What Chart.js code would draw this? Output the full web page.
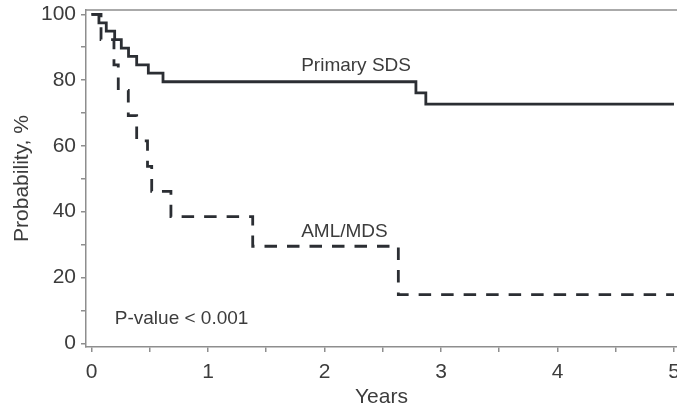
<!DOCTYPE html>
<html>
<head>
<meta charset="utf-8">
<script src="https://cdn.jsdelivr.net/npm/chart.js@4.4.1/dist/chart.umd.min.js"></script>
<style>
  html, body { margin: 0; padding: 0; background: #fff; }
  #wrap { width: 677px; height: 409px; }
</style>
</head>
<body>
<div id="wrap"><canvas id="grafico" width="677" height="409"></canvas></div>
<script>
// curvas de sobrevida (anos, probabilidade %)
const sdsAnos = [0, 0.064, 0.127, 0.199, 0.256, 0.318, 0.388, 0.488, 0.614, 2.785, 2.87, 5];
const sdsProb = [100, 97.4, 94.9, 92.3, 89.7, 87.2, 84.6, 82.1, 79.5, 76.1, 72.7, 72.7];

const amlAnos = [0, 0.082, 0.193, 0.23, 0.316, 0.388, 0.481, 0.517, 0.682, 1.384, 2.634, 5];
const amlProb = [100, 92.3, 84.6, 76.9, 69.2, 61.5, 53.8, 46.2, 38.5, 29.5, 14.8, 14.8];

const ticksX = [0, 0.5, 1, 1.5, 2, 2.5, 3, 3.5, 4, 4.5, 5];
const ticksY = [0, 10, 20, 30, 40, 50, 60, 70, 80, 90, 100];

const rotulos = [
  { texto: 'Primary SDS', x: 1.8, y: 84.3 },
  { texto: 'AML/MDS', x: 1.8, y: 33.9 },
  { texto: 'P-value < 0.001', x: 0.2, y: 7.6 }
];

const corLinha = '#2b2e33';
const corTexto = '#3c3c3c';
const corEixo = '#8e8e8e';
const fonte = '"Liberation Sans", Arial, sans-serif';

const pontos = (xs, ys) => xs.map((v, i) => ({ x: v, y: ys[i] }));

const extras = {
  id: 'extras',
  afterDatasetsDraw(chart) {
    const { ctx, chartArea, scales: { x, y } } = chart;
    ctx.save();
    ctx.strokeStyle = corEixo;
    ctx.lineWidth = 1.5;
    ctx.beginPath();
    ctx.moveTo(chartArea.left, chartArea.top);
    ctx.lineTo(chartArea.right, chartArea.top);
    ctx.stroke();
    ctx.font = '19px ' + fonte;
    ctx.fillStyle = corTexto;
    ctx.textBaseline = 'middle';
    ctx.textAlign = 'left';
    rotulos.forEach(r => ctx.fillText(r.texto, x.getPixelForValue(r.x), y.getPixelForValue(r.y)));
    ctx.restore();
  }
};

new Chart(document.getElementById('grafico'), {
  type: 'line',
  data: {
    datasets: [
      {
        label: 'Primary SDS',
        data: pontos(sdsAnos, sdsProb),
        stepped: 'before',
        borderColor: corLinha,
        borderWidth: 2.8,
        pointRadius: 0,
        fill: false
      },
      {
        label: 'AML/MDS',
        data: pontos(amlAnos, amlProb),
        stepped: 'before',
        borderColor: corLinha,
        borderWidth: 2.8,
        borderDash: [12.5, 10],
        pointRadius: 0,
        fill: false
      }
    ]
  },
  options: {
    responsive: false,
    animation: false,
    layout: { padding: { top: 10, left: 0, right: 0, bottom: 0 } },
    plugins: { legend: { display: false }, tooltip: { enabled: false } },
    scales: {
      x: {
        type: 'linear',
        min: -0.047,
        max: 5.026,
        afterBuildTicks: s => { s.ticks = ticksX.map(v => ({ value: v })); },
        afterFit: s => { s.height = 62; s.paddingLeft = 0; s.paddingRight = 0; },
        ticks: {
          autoSkip: false,
          maxRotation: 0,
          padding: 8,
          color: corTexto,
          font: { family: fonte, size: 21 },
          callback: v => Number.isInteger(v) ? String(v) : ''
        },
        grid: { drawOnChartArea: false, drawTicks: true, tickLength: 5, color: corEixo, lineWidth: 1.5 },
        border: { display: true, color: corEixo, width: 1.5 },
        title: {
          display: true,
          text: 'Years',
          color: corTexto,
          font: { family: fonte, size: 21 },
          padding: { top: 0, bottom: -1 }
        }
      },
      y: {
        min: -1.12,
        max: 101.3,
        afterBuildTicks: s => { s.ticks = ticksY.map(v => ({ value: v })); },
        afterFit: s => { s.width = 86; s.paddingTop = 0; s.paddingBottom = 0; },
        ticks: {
          autoSkip: false,
          padding: 5,
          color: corTexto,
          font: { family: fonte, size: 21 },
          callback: v => v % 20 === 0 ? String(v) : ''
        },
        grid: { drawOnChartArea: false, drawTicks: true, tickLength: 5, color: corEixo, lineWidth: 1.5 },
        border: { display: true, color: corEixo, width: 1.5 },
        title: {
          display: true,
          text: 'Probability, %',
          color: corTexto,
          font: { family: fonte, size: 21 },
          padding: { top: 10, bottom: 0 }
        }
      }
    }
  },
  plugins: [extras]
});
</script>
</body>
</html>
